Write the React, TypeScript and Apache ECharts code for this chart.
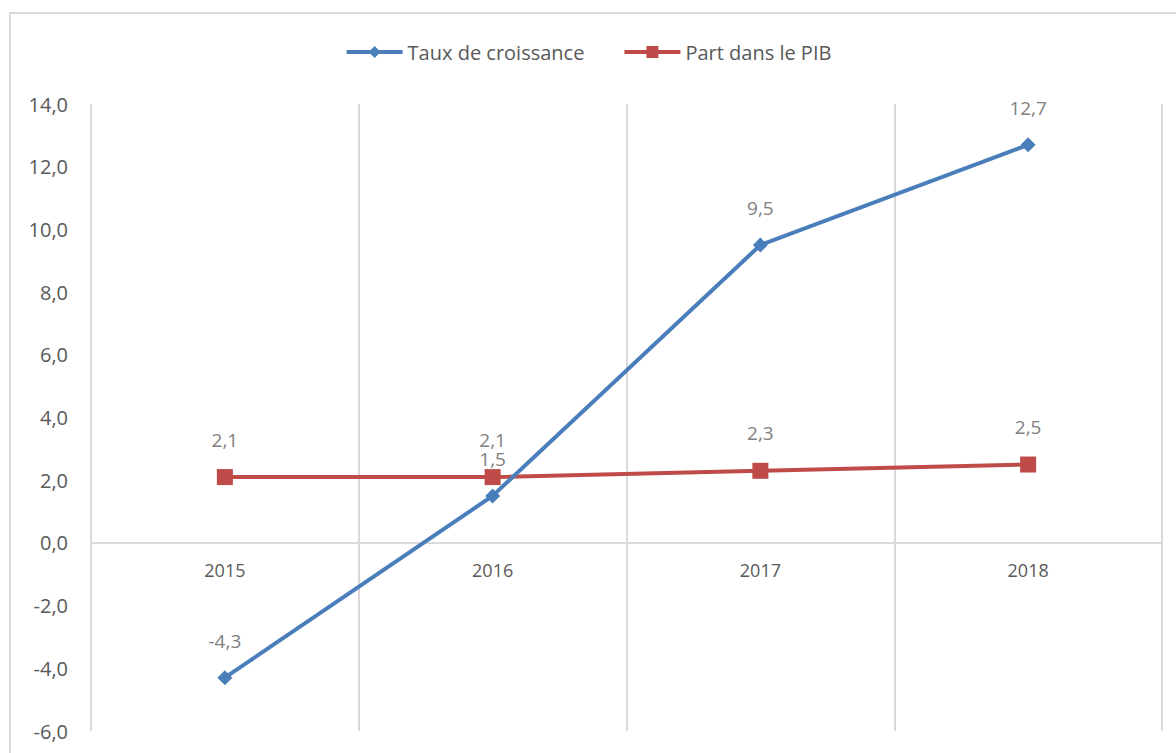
import React, { useEffect, useRef } from "react";
import * as echarts from "echarts";

const years = ["2015", "2016", "2017", "2018"];
const tauxCroissance = [-4.3, 1.5, 9.5, 12.7];
const partPIB = [2.1, 2.1, 2.3, 2.5];
const seriesNames = ["Taux de croissance", "Part dans le PIB"];
const yMin = -6;
const yMax = 14;

const FONT = "'Open Sans', 'Liberation Sans', sans-serif";
const fmt = (v: number) => v.toFixed(1).replace(".", ",");

const GRID_TOP = 104;
const GRID_BOTTOM = 22;
const HEIGHT = 753;

export default function App() {
  const ref = useRef<HTMLDivElement>(null);
  useEffect(() => {
    if (!ref.current) return;
    const chart = echarts.init(ref.current, undefined, { renderer: "svg" });
    const plotH = HEIGHT - GRID_TOP - GRID_BOTTOM;
    // shift the category axis (line + labels) up to the zero value
    const zeroOffset = -(plotH * (0 - yMin)) / (yMax - yMin);
    chart.setOption({
      animation: false,
      backgroundColor: "#ffffff",
      graphic: [
        {
          type: "rect",
          shape: { x: 10, y: 13, width: 1300, height: 900 },
          style: { fill: "none", stroke: "#d9d9d9", lineWidth: 2 },
          silent: true,
          z: -1,
        },
      ],
      legend: {
        top: 37,
        left: "center",
        itemWidth: 56,
        itemHeight: 15,
        itemGap: 38,
        lineStyle: { width: 4 },
        textStyle: { color: "#595959", fontSize: 20, fontFamily: FONT },
        data: seriesNames,
      },
      grid: {
        left: 91,
        right: 14,
        top: GRID_TOP,
        bottom: GRID_BOTTOM,
        containLabel: false,
        outerBoundsMode: "none",
      },
      xAxis: [
        {
          type: "category",
          data: years,
          boundaryGap: true,
          axisLine: { show: false },
          axisTick: { show: false },
          axisLabel: { show: false },
          splitLine: { show: true, lineStyle: { color: "#d9d9d9", width: 2 } },
        },
        {
          type: "category",
          data: years,
          position: "bottom",
          offset: zeroOffset,
          boundaryGap: true,
          axisLine: { show: true, onZero: false, lineStyle: { color: "#d9d9d9", width: 2 } },
          axisTick: { show: false },
          splitLine: { show: false },
          axisLabel: {
            color: "#595959",
            fontSize: 18,
            fontFamily: FONT,
            margin: 18,
          },
        },
      ],
      yAxis: {
        type: "value",
        min: yMin,
        max: yMax,
        interval: 2,
        axisLine: { show: false },
        axisTick: { show: false },
        splitLine: { show: false },
        axisLabel: {
          color: "#595959",
          fontSize: 20,
          fontFamily: FONT,
          margin: 23,
          formatter: (v: number) => fmt(v),
        },
      },
      series: [
        {
          name: seriesNames[0],
          type: "line",
          data: tauxCroissance,
          symbol: "diamond",
          symbolSize: 15,
          lineStyle: { color: "#4a7ebb", width: 4 },
          itemStyle: { color: "#4a7ebb" },
          label: {
            show: true,
            position: "top",
            distance: 20,
            color: "#7f7f7f",
            fontSize: 19,
            fontFamily: FONT,
            formatter: (p: any) => fmt(p.value),
          },
          z: 3,
        },
        {
          name: seriesNames[1],
          type: "line",
          data: partPIB,
          symbol: "rect",
          symbolSize: 16,
          lineStyle: { color: "#be4b48", width: 4 },
          itemStyle: { color: "#be4b48" },
          label: {
            show: true,
            position: "top",
            distance: 20,
            color: "#7f7f7f",
            fontSize: 19,
            fontFamily: FONT,
            formatter: (p: any) => fmt(p.value),
          },
          z: 2,
        },
      ],
    });
    return () => chart.dispose();
  }, []);
  return (
    <div
      ref={ref}
      style={{ position: "fixed", left: 0, top: 0, width: 1176, height: HEIGHT }}
    />
  );
}
